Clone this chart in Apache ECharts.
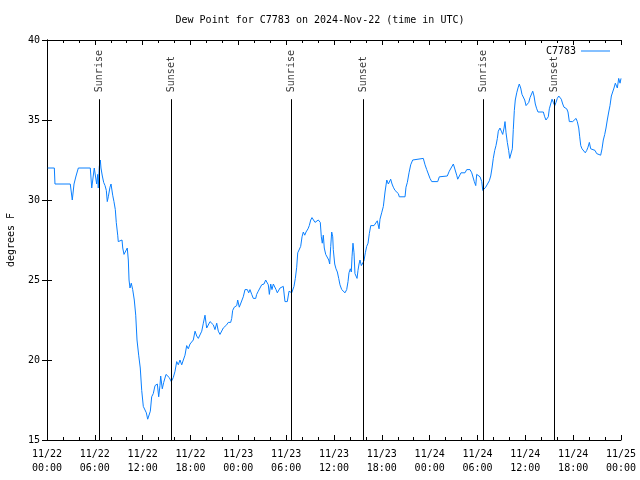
<!DOCTYPE html>
<html>
<head>
<meta charset="utf-8">
<script src="https://cdn.jsdelivr.net/npm/echarts@6/dist/echarts.min.js"></script>
<style>html,body{margin:0;padding:0;background:#fff}#c{width:640px;height:480px}</style>
</head>
<body>
<div id="c"></div>
<script>
// hours since 2024-11-22 00:00 UTC
var hours = [0.09,0.92,1.0,2.92,3.17,3.39,3.64,3.93,5.43,5.61,5.93,6.15,6.23,6.36,6.43,6.56,6.69,6.77,6.94,7.11,7.28,7.44,7.56,7.69,7.90,8.03,8.24,8.40,8.57,8.69,8.87,8.94,9.16,9.41,9.50,9.66,9.91,10.07,10.20,10.29,10.41,10.57,10.75,10.95,11.13,11.29,11.50,11.70,11.88,12.08,12.29,12.46,12.63,12.88,12.96,13.13,13.33,13.55,13.84,14.01,14.17,14.26,14.46,14.64,14.93,15.09,15.34,15.59,15.84,16.06,16.27,16.47,16.68,16.90,17.10,17.31,17.52,17.72,17.94,18.15,18.35,18.57,18.78,18.98,19.19,19.41,19.61,19.82,20.03,20.23,20.45,20.66,20.86,21.07,21.29,21.49,21.70,21.91,22.11,22.33,22.54,22.74,23.04,23.17,23.29,23.49,23.80,23.92,24.12,24.34,24.62,24.84,25.13,25.30,25.46,25.68,25.88,26.18,26.30,26.50,26.72,26.93,27.22,27.43,27.63,27.76,27.89,28.06,28.22,28.39,28.56,28.73,28.89,29.06,29.23,29.39,29.64,29.85,30.14,30.36,30.70,30.98,31.15,31.32,31.45,31.65,31.82,31.99,32.15,32.33,32.49,32.74,32.90,33.08,33.24,33.45,33.62,33.83,34.03,34.16,34.28,34.41,34.53,34.66,34.78,34.96,35.16,35.34,35.46,35.59,35.71,35.84,35.91,36.09,36.25,36.42,36.59,36.75,36.97,37.17,37.38,37.59,37.76,37.88,38.05,38.17,38.26,38.38,38.51,38.63,38.76,38.89,39.01,39.14,39.26,39.43,39.60,39.76,39.93,40.10,40.27,40.43,40.61,40.81,41.02,41.23,41.43,41.65,41.77,41.98,42.19,42.40,42.62,42.82,42.94,43.11,43.28,43.44,43.65,43.87,44.07,44.19,44.91,45.03,45.20,45.41,45.62,45.87,46.04,47.20,47.42,47.63,47.83,48.04,48.26,49.01,49.21,50.21,50.46,50.68,50.97,51.22,51.39,51.52,51.72,51.93,52.43,52.65,52.85,53.06,53.28,53.48,53.60,53.78,53.90,54.10,54.32,54.53,54.66,54.82,55.03,55.23,55.48,55.66,55.82,55.98,56.16,56.32,56.49,56.61,56.82,56.99,57.16,57.33,57.45,57.58,57.74,57.91,58.04,58.24,58.37,58.49,58.62,58.74,58.92,59.08,59.24,59.42,59.58,59.75,59.92,60.09,60.25,60.43,60.59,60.75,60.93,61.09,61.25,61.43,61.59,62.26,62.43,62.59,62.76,62.88,63.01,63.18,63.35,63.51,63.69,63.85,64.01,64.19,64.39,64.51,64.69,64.85,65.02,65.19,65.35,65.52,65.73,65.94,66.19,66.36,66.52,66.70,66.82,66.95,67.11,67.36,67.52,67.70,67.86,68.03,68.20,68.36,68.74,68.95,69.15,69.45,69.62,69.78,69.96,70.12,70.28,70.46,70.62,70.79,70.96,71.12,71.29,71.46,71.54,71.71,71.88,72.0];
var dewPoint = [32,32,31,31,30,31,31.5,32,32,30.75,32,32,31,31.6,30.75,32.1,32.5,32,31.5,31.1,30.9,30.6,29.9,30.2,30.8,31.0,30.3,29.9,29.4,28.6,27.8,27.4,27.5,27.5,27.0,26.6,26.6,27.0,26.25,25.0,24.5,24.8,24.4,23.75,22.8,21.25,20.3,19.5,18.1,17.1,17.0,16.7,16.3,16.3,16.8,17.7,17.9,18.4,18.5,17.7,18.4,19.0,18.2,18.6,19.1,19.2,18.9,18.65,18.9,19.3,19.9,19.7,20.0,19.7,20.0,20.3,20.9,20.7,21.0,21.0,21.25,21.8,21.5,21.35,21.4,21.8,22.3,22.8,22.0,22.1,22.4,22.5,22.2,21.9,22.3,21.8,21.6,21.7,22.0,22.0,22.2,22.35,22.35,22.6,23.1,23.3,23.4,23.75,23.3,23.4,23.95,24.4,24.4,24.2,24.4,24.1,23.85,23.85,24.1,24.3,24.35,24.7,24.75,25.0,25.0,24.7,24.1,24.75,24.4,24.75,24.8,24.4,24.2,24.2,24.5,24.6,24.6,23.65,23.65,24.3,24.2,24.6,25.1,25.8,26.7,26.7,27.1,27.7,28.0,27.8,28.0,28.2,28.4,28.75,28.9,28.9,28.6,28.5,28.75,28.8,28.6,27.7,27.3,27.8,27.0,26.6,26.6,26.25,26.0,27.1,28.0,27.7,26.9,26.0,25.7,25.5,25.1,24.7,24.4,24.4,24.2,24.4,24.9,25.45,25.7,25.5,26.45,27.3,26.7,25.4,25.4,25.1,25.6,26.0,26.25,25.9,25.9,26.2,26.7,27.1,27.3,27.9,28.4,28.5,28.4,28.5,28.7,28.2,28.8,29.2,29.6,30.5,31.25,31.0,30.9,31.3,31.0,30.8,30.6,30.6,30.4,30.2,30.2,30.8,31.1,31.7,32.2,32.5,32.6,32.6,32.2,31.9,31.9,31.35,31.15,31.15,31.45,31.5,31.8,31.9,32.25,32.25,31.55,31.3,31.3,31.7,31.7,31.9,32.0,31.9,31.7,31.7,31.15,30.9,31.6,31.5,31.45,31.15,30.6,30.5,30.8,30.9,31.2,31.5,32.0,32.6,33.1,33.4,33.85,34.3,34.5,34.3,34.1,34.5,34.9,34.2,33.6,33.1,32.6,32.6,33.2,34.4,35.6,36.25,36.7,37.0,37.25,37.0,36.6,36.6,36.25,35.9,35.9,36.1,36.4,36.4,36.8,36.5,36.0,35.7,35.5,35.5,35.2,35.0,34.9,35.2,35.7,36.0,36.3,36.1,35.9,36.1,36.35,36.5,36.6,36.3,36.0,35.8,35.8,35.7,35.5,34.9,34.9,34.9,35.0,35.1,34.9,34.5,33.95,33.4,33.2,33.1,32.95,33.1,33.3,33.6,33.2,33.1,33.1,32.9,32.8,32.8,33.2,33.75,34.1,34.5,35.0,35.5,35.9,36.5,36.6,37.0,37.3,37.3,37.0,37.6,37.3,37.6];
var sunHours = [6.56, 15.6, 30.65, 39.68, 54.73, 63.64];
var sunNames = ['Sunrise','Sunset','Sunrise','Sunset','Sunrise','Sunset'];
var xTickLabels = ['11/22\n00:00','11/22\n06:00','11/22\n12:00','11/22\n18:00','11/23\n00:00','11/23\n06:00','11/23\n12:00','11/23\n18:00','11/24\n00:00','11/24\n06:00','11/24\n12:00','11/24\n18:00','11/25\n00:00'];
var yTicks = [15,20,25,30,35,40];
var seriesName = 'C7783';
var titleText = 'Dew Point for C7783 on 2024-Nov-22 (time in UTC)';
var yName = 'degrees F';

var FONT = 'DejaVu Sans Mono';
var COLOR = '#0a80ff';
var lineTop = 36.3;
var pts = hours.map(function(h,i){return [h, dewPoint[i]];});
var sunLines = sunHours.map(function(h){return [{coord:[h, lineTop]},{coord:[h, 15]}];});
var sunLabels = sunHours.map(function(h,i){return {value:[h, lineTop], name:sunNames[i]};});

var chart = echarts.init(document.getElementById('c'), null, {renderer:'canvas'});
var axisCommon = {
  axisLine:{show:true,lineStyle:{color:'#000',width:1}},
  splitLine:{show:false},
  axisLabel:{color:'#000',fontFamily:FONT,fontSize:10}
};
chart.setOption({
  animation:false,
  backgroundColor:'#fff',
  title:{text:titleText,left:'center',top:10,textStyle:{fontFamily:FONT,fontSize:10,fontWeight:'normal',color:'#000'}},
  legend:{show:true,right:25,top:41,align:'right',icon:'rect',itemWidth:29,itemHeight:1,itemGap:5,
    itemStyle:{color:COLOR},
    textStyle:{fontFamily:FONT,fontSize:10,color:'#000'},data:[seriesName]},
  grid:{left:47,right:19,top:40,bottom:40,outerBoundsMode:'none',containLabel:false},
  xAxis:[
    Object.assign({},axisCommon,{type:'value',min:0,max:72,interval:6,position:'bottom',
      axisTick:{show:true,inside:true,length:5,lineStyle:{color:'#000'}},
      minorTick:{show:true,splitNumber:3,length:3,lineStyle:{color:'#000'}},
      axisLabel:{color:'#000',fontFamily:FONT,fontSize:10,lineHeight:14,margin:7,
        formatter:function(v){return xTickLabels[Math.round(v/6)]||'';}}}),
    Object.assign({},axisCommon,{type:'value',min:0,max:72,interval:6,position:'top',
      axisTick:{show:true,inside:true,length:5,lineStyle:{color:'#000'}},
      minorTick:{show:true,splitNumber:3,length:3,lineStyle:{color:'#000'}},
      axisLabel:{show:false}})
  ],
  yAxis:[
    Object.assign({},axisCommon,{type:'value',min:yTicks[0],max:yTicks[yTicks.length-1],interval:5,position:'left',
      name:yName,nameLocation:'middle',nameGap:31,nameRotate:90,
      nameTextStyle:{fontFamily:FONT,fontSize:10,color:'#000'},
      axisTick:{show:true,inside:true,length:5,lineStyle:{color:'#000'}},
      axisLabel:{color:'#000',fontFamily:FONT,fontSize:10,margin:7}}),
    Object.assign({},axisCommon,{type:'value',min:yTicks[0],max:yTicks[yTicks.length-1],interval:5,position:'right',
      axisTick:{show:true,inside:true,length:5,lineStyle:{color:'#000'}},
      axisLabel:{show:false}})
  ],
  series:[
    {name:seriesName,type:'line',data:pts,showSymbol:false,symbol:'none',
      lineStyle:{color:COLOR,width:1},itemStyle:{color:COLOR},
      markLine:{silent:true,symbol:['none','none'],label:{show:false},
        lineStyle:{color:'#000',width:1,type:'solid'},data:sunLines}},
    {name:'sun',type:'scatter',data:sunLabels,symbolSize:0,silent:true,
      label:{show:true,position:'top',distance:7,rotate:90,align:'left',verticalAlign:'middle',
        formatter:function(p){return p.name;},fontFamily:FONT,fontSize:10,color:'#000'}}
  ]
});
</script>
</body>
</html>
